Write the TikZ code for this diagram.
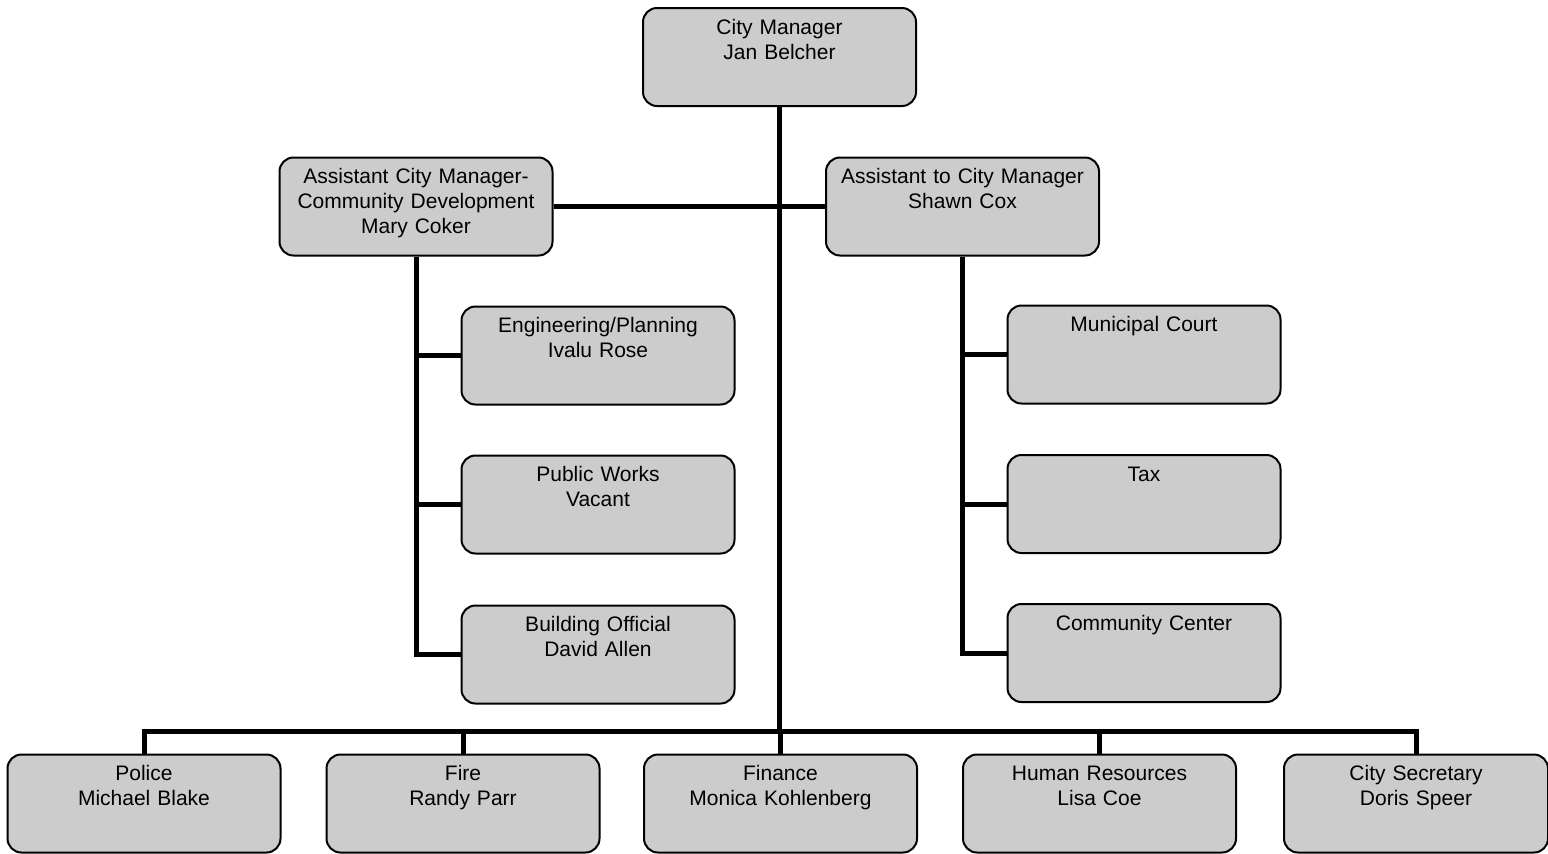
\documentclass[tikz,border=0pt]{standalone}
\usepackage{fontspec}
\setmainfont{Liberation Sans}
\usetikzlibrary{positioning,calc}
\definecolor{boxgray}{RGB}{204,204,204}
\tikzset{
  postbox/.style={draw=black,fill=boxgray,rounded corners=7pt,line width=1pt,
    align=center,inner sep=0pt,text width=136.5pt,
    text height=13pt,text depth=36pt,font=\fontsize{10.5}{12.5}\selectfont},
  orgline/.style={line width=2.5pt,draw=black,line join=miter}
}

\begin{document}
\begin{tikzpicture}[x=0.5pt,y=-0.5pt]
  \useasboundingbox (0,0) rectangle (1548,853);
  \coordinate (bus) at (0,731);

  % top level and the two assistants
  \node[postbox] (citymgr) at (779.5,57) {City Manager\\Jan Belcher};
  \node[postbox] (acm) at (416,206.5) {Assistant City Manager-\\Community Development\\Mary Coker};
  \node[postbox] (atcm) at (962.5,206.5) {Assistant to City Manager\\Shawn Cox};

  % under the assistant city manager
  \node[postbox] (eng) at (598,355.5) {Engineering/Planning\\Ivalu Rose};
  \node[postbox] (works) at (598,504.5) {Public Works\\Vacant};
  \node[postbox] (build) at (598,654.5) {Building Official\\David Allen};

  % under the assistant to the city manager
  \node[postbox] (court) at (1144,354.5) {Municipal Court};
  \node[postbox] (tax) at (1144,504) {Tax};
  \node[postbox] (center) at (1144,653) {Community Center};

  % departments on the bottom row
  \node[postbox] (police) at (144,803.5) {Police\\Michael Blake};
  \node[postbox] (fire) at (463,803.5) {Fire\\Randy Parr};
  \node[postbox] (finance) at (780.5,803.5) {Finance\\Monica Kohlenberg};
  \node[postbox] (hr) at (1099.5,803.5) {Human Resources\\Lisa Coe};
  \node[postbox,text width=132pt] (secretary) at (1416,803.5) {City Secretary\\Doris Speer};

  % connectors
  \draw[orgline] (citymgr.south) -- (citymgr.south |- bus);
  \draw[orgline] (acm.east) -- (atcm.west);
  \draw[orgline] (acm.south) |- (build.west);
  \draw[orgline] (acm.south |- eng.west) -- (eng.west);
  \draw[orgline] (acm.south |- works.west) -- (works.west);
  \draw[orgline] (atcm.south) |- (center.west);
  \draw[orgline] (atcm.south |- court.west) -- (court.west);
  \draw[orgline] (atcm.south |- tax.west) -- (tax.west);
  \draw[orgline] (police.north) |- (bus -| secretary.north) -- (secretary.north);
  \draw[orgline] (fire.north) -- (fire.north |- bus);
  \draw[orgline] (finance.north) -- (finance.north |- bus);
  \draw[orgline] (hr.north) -- (hr.north |- bus);
\end{tikzpicture}
\end{document}
